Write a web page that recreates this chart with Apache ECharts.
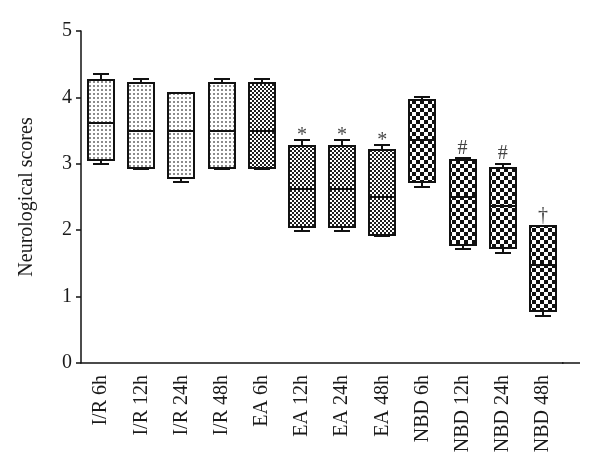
<!DOCTYPE html>
<html>
<head>
<meta charset="utf-8">
<script src="https://cdn.jsdelivr.net/npm/echarts@6/dist/echarts.min.js"></script>
<style>
  html, body { margin: 0; padding: 0; background: #fff; }
  #chart { width: 600px; height: 475px; }
</style>
</head>
<body>
<div id="chart"></div>
<script>
// groups on the x axis
const categories = ['I/R 6h', 'I/R 12h', 'I/R 24h', 'I/R 48h', 'EA 6h', 'EA 12h', 'EA 24h', 'EA 48h',
  'NBD 6h', 'NBD 12h', 'NBD 24h', 'NBD 48h'];
// box values
const whiskerLow = [3.00, 2.92, 2.72, 2.92, 2.92, 1.99, 1.99, 1.92, 2.65, 1.72, 1.65, 0.71];
const boxLow     = [3.06, 2.93, 2.78, 2.93, 2.93, 2.05, 2.05, 1.93, 2.73, 1.78, 1.73, 0.78];
const medians    = [3.61, 3.49, 3.49, 3.49, 3.49, 2.62, 2.62, 2.50, 3.36, 2.50, 2.37, 1.48];
const boxHigh    = [4.26, 4.21, 4.06, 4.21, 4.21, 3.27, 3.27, 3.21, 3.96, 3.06, 2.94, 2.06];
const whiskerHigh = [4.35, 4.28, 4.07, 4.28, 4.28, 3.36, 3.36, 3.28, 4.00, 3.08, 3.00, 2.07];
// significance marks
const marks = ['', '', '', '', '', '*', '*', '*', '', '#', '#', '\u2020'];
const yTicks = [0, 1, 2, 3, 4, 5];

// fill patterns, one per group
function makeTile(size, draw) {
  const c = document.createElement('canvas');
  c.width = size;
  c.height = size;
  const ctx = c.getContext('2d');
  ctx.fillStyle = '#fff';
  ctx.fillRect(0, 0, size, size);
  draw(ctx);
  return { image: c, repeat: 'repeat' };
}
const patterns = {
  'I/R': makeTile(4, (ctx) => {
    ctx.fillStyle = '#8c8c8c';
    ctx.fillRect(1, 1, 2, 2);
  }),
  'EA': makeTile(4, (ctx) => {
    ctx.fillStyle = '#1e1e1e';
    ctx.fillRect(0, 0, 2, 2);
    ctx.fillRect(2, 2, 2, 2);
  }),
  'NBD': makeTile(8, (ctx) => {
    ctx.fillStyle = '#111';
    ctx.fillRect(0, 0, 4, 4);
    ctx.fillRect(4, 4, 4, 4);
  }),
};

const boxData = categories.map((c, i) =>
  [i, whiskerLow[i], boxLow[i], medians[i], boxHigh[i], whiskerHigh[i]]);
// the asterisk glyph sits high in its box, so pull it down a little
const markShift = { '*': 6 };
const markData = [];
marks.forEach((m, i) => {
  if (m) markData.push({ value: [i, whiskerHigh[i]], mark: m, label: { offset: [0, markShift[m] || 0] } });
});

function renderBox(params, api) {
  const i = api.value(0);
  const r = (p) => [Math.round(p[0]), Math.round(p[1])];
  const lo = r(api.coord([i, api.value(1)]));
  const q1 = r(api.coord([i, api.value(2)]));
  const md = r(api.coord([i, api.value(3)]));
  const q3 = r(api.coord([i, api.value(4)]));
  const hi = r(api.coord([i, api.value(5)]));
  const band = api.size([1, 0])[0];
  const half = Math.round(band * 0.335);
  const cap = Math.round(band * 0.2);
  const x = lo[0];
  const line = { stroke: '#111', lineWidth: 2 };
  const group = categories[i].split(' ')[0];
  return {
    type: 'group',
    children: [
      { type: 'line', shape: { x1: x, y1: q3[1], x2: x, y2: hi[1] }, style: line },
      { type: 'line', shape: { x1: x - cap, y1: hi[1], x2: x + cap, y2: hi[1] }, style: line },
      { type: 'line', shape: { x1: x, y1: q1[1], x2: x, y2: lo[1] }, style: line },
      { type: 'line', shape: { x1: x - cap, y1: lo[1], x2: x + cap, y2: lo[1] }, style: line },
      {
        type: 'rect',
        shape: { x: x - half, y: q3[1], width: half * 2, height: q1[1] - q3[1] },
        style: { fill: patterns[group], stroke: '#111', lineWidth: 2 },
      },
      { type: 'line', shape: { x1: x - half, y1: md[1], x2: x + half, y2: md[1] }, style: line },
    ],
  };
}

const chart = echarts.init(document.getElementById('chart'));
const serif = '"Liberation Serif", "DejaVu Serif", serif';
const option = {
  backgroundColor: '#fff',
  animation: false,
  grid: {
    left: 81,
    right: 37,
    top: 31,
    bottom: 112,
  },
  xAxis: {
    type: 'category',
    data: categories,
    axisLine: { lineStyle: { color: '#111', width: 1.5 } },
    axisTick: { alignWithLabel: true, length: 5, lineStyle: { color: '#111', width: 1.5 } },
    axisLabel: {
      rotate: 90,
      margin: 12,
      fontFamily: serif,
      fontSize: 20,
      color: '#1a1a1a',
      interval: 0,
    },
  },
  yAxis: {
    type: 'value',
    min: yTicks[0],
    max: yTicks[yTicks.length - 1],
    interval: 1,
    name: 'Neurological scores',
    nameLocation: 'middle',
    nameGap: 44,
    nameTextStyle: { fontFamily: serif, fontSize: 20, color: '#1a1a1a' },
    axisLine: { show: true, lineStyle: { color: '#111', width: 1.5 } },
    axisTick: { show: true, length: 5, lineStyle: { color: '#111', width: 1.5 } },
    axisLabel: { fontFamily: serif, fontSize: 20, color: '#1a1a1a', margin: 9 },
    splitLine: { show: false },
  },
  graphic: [
    // the x axis line runs a little past the last group
    { type: 'line', shape: { x1: 562, y1: 363, x2: 580, y2: 363 }, style: { stroke: '#111', lineWidth: 1.5 } },
  ],
  series: [
    {
      type: 'custom',
      renderItem: renderBox,
      data: boxData,
      encode: { x: 0, y: [1, 2, 3, 4, 5] },
      z: 2,
    },
    {
      type: 'scatter',
      data: markData,
      symbolSize: 0,
      label: {
        show: true,
        position: 'top',
        distance: 0,
        formatter: (p) => p.data.mark,
        fontFamily: serif,
        fontSize: 20,
        color: '#111',
      },
      z: 3,
    },
  ],
};
chart.setOption(option);
</script>
</body>
</html>
